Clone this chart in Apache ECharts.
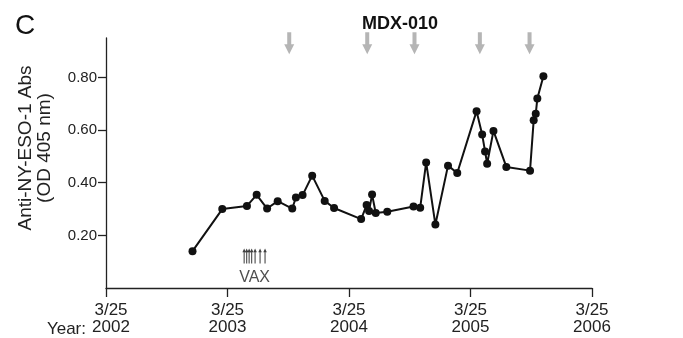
<!DOCTYPE html>
<html>
<head>
<meta charset="utf-8">
<script src="https://cdn.jsdelivr.net/npm/echarts@6/dist/echarts.min.js"></script>
<style>html,body{margin:0;padding:0;background:#fff}#c{width:683px;height:338px}</style>
</head>
<body>
<div id="c"></div>
<script>
// x values: years, where 2002 means 3/25/2002
var sampleDates = [2002.712,2002.957,2003.16,2003.24,2003.326,2003.413,2003.533,2003.563,2003.618,2003.697,2003.80,2003.877,2004.10,2004.145,2004.165,2004.19,2004.22,2004.315,2004.531,2004.586,2004.635,2004.711,2004.815,2004.891,2005.05,2005.096,2005.12,2005.137,2005.189,2005.295,2005.49,2005.52,2005.537,2005.55,2005.60];
var absValues   = [0.14,0.30,0.312,0.354,0.302,0.33,0.302,0.344,0.353,0.427,0.331,0.304,0.262,0.315,0.293,0.355,0.285,0.29,0.31,0.305,0.477,0.241,0.465,0.437,0.672,0.583,0.519,0.472,0.597,0.46,0.446,0.637,0.662,0.72,0.805];
var mdxDoses    = [2003.508,2004.150,2004.539,2005.077,2005.486];
var vaxDoses    = [2003.137,2003.158,2003.178,2003.199,2003.227,2003.268,2003.309];
var xTicks      = [2002,2003,2004,2005,2006];
var yTicks      = [0.2,0.4,0.6,0.8];

var FONT = '"Liberation Sans", Arial, Helvetica, sans-serif';
var chart = echarts.init(document.getElementById('c'));
var lineData = sampleDates.map(function(d,i){return [d, absValues[i]];});
var mdxData = mdxDoses.map(function(d){return [d, 0.93];});
var vaxData = vaxDoses.map(function(d){return [d, 0.122];});
var vaxCenter = (vaxDoses[0] + vaxDoses[vaxDoses.length-1]) / 2;

chart.setOption({
  animation: false,
  backgroundColor: '#fff',
  textStyle: {fontFamily: FONT},
  grid: {left: 106, right: 91, top: 38, bottom: 50, containLabel: false},
  title: [
    {text: 'C', left: 10, top: 7, textStyle: {fontSize: 28, fontWeight: 'normal', color: '#111', fontFamily: FONT}},
    {text: 'MDX-010', left: 395, top: 10, textAlign: 'center', textStyle: {fontSize: 18, fontWeight: 'bold', color: '#111', fontFamily: FONT}}
  ],
  graphic: [
    {type: 'text', x: 35, y: 148, rotation: Math.PI/2,
     style: {text: 'Anti-NY-ESO-1 Abs\n(OD 405 nm)', fill: '#222', font: '19px ' + FONT, align: 'center', verticalAlign: 'middle', lineHeight: 19}},
    {type: 'text', x: 86, y: 329, style: {text: 'Year:', fill: '#222', font: '17px ' + FONT, align: 'right', verticalAlign: 'middle'}}
  ],
  xAxis: {
    type: 'value', min: xTicks[0], max: xTicks[xTicks.length-1], interval: 1,
    splitLine: {show: false},
    axisLine: {lineStyle: {color: '#222', width: 1.3}},
    axisTick: {length: 9, lineStyle: {color: '#222', width: 1.3}},
    axisLabel: {margin: 14, fontSize: 17, lineHeight: 17, color: '#222', fontFamily: FONT,
      formatter: function(v){return v === xTicks[0] ? '{f|3/25}\n{f|' + v + '}' : '3/25\n' + v;},
      rich: {f: {fontSize: 17, lineHeight: 17, color: '#222', fontFamily: FONT, padding: [0, 0, 0, 10]}}}
  },
  yAxis: {
    type: 'value', min: 0, max: 0.95,
    splitLine: {show: false},
    axisLine: {show: true, lineStyle: {color: '#222', width: 1.3}},
    axisTick: {show: true, length: 8, inside: false, customValues: yTicks, lineStyle: {color: '#222', width: 1.3}},
    axisLabel: {margin: 9, fontSize: 15, color: '#222', fontFamily: FONT, customValues: yTicks,
      formatter: function(v){return v.toFixed(2);}}
  },
  series: [
    {type: 'line', data: lineData, symbol: 'circle', symbolSize: 8,
     lineStyle: {color: '#111', width: 2}, itemStyle: {color: '#111'}, z: 5},
    {type: 'scatter', data: mdxData, symbol: 'path://M3,0 L7,0 L7,12 L10,12 L5,22 L0,12 L3,12 Z',
     symbolSize: [10, 22], itemStyle: {color: '#a3a3a3'}, z: 3},
    {type: 'scatter', data: vaxData, symbol: 'path://M2,0 L4,5 L2.6,5 L2.6,20 L1.4,20 L1.4,5 L0,5 Z',
     symbolSize: [3.5, 15], itemStyle: {color: '#111'}, z: 3},
    {type: 'scatter', data: [[vaxCenter, 0.038]], symbolSize: 0,
     label: {show: true, position: 'inside', formatter: 'VAX', fontSize: 16, color: '#222', fontFamily: FONT}, z: 3}
  ]
});
</script>
</body>
</html>
